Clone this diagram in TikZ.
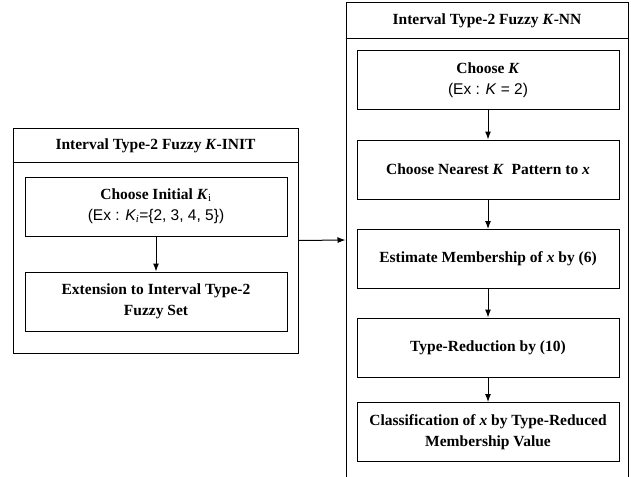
\documentclass[tikz,border=0pt]{standalone}
\usepackage{fontspec}
\setmainfont{Liberation Serif}
\newfontfamily\exfont{Liberation Sans}
\usetikzlibrary{arrows.meta}

\begin{document}
\begin{tikzpicture}[x=1pt,y=-1pt,
		panel/.style={draw,line width=1pt,inner sep=0pt},
		headline/.style={font=\bfseries\fontsize{15.5}{21}\selectfont},
		stepbox/.style={draw,line width=1pt,minimum width=262pt,minimum height=59pt,align=center,font=\bfseries\fontsize{15.5}{21}\selectfont},
		flow/.style={-{Latex[length=8pt,width=6pt]},line width=1pt}]
	
	\useasboundingbox (0,0) rectangle (631,476);
	
	% outer panels
	\node [panel,minimum width=285pt,minimum height=225pt] (initbox) at (155.5,240.5) {};
	\node [panel,minimum width=282pt,minimum height=474pt] (nnbox) at (487,240) {};
	\draw [line width=1pt] ([yshift=-35pt]initbox.north west) -- ([yshift=-35pt]initbox.north east);
	\draw [line width=1pt] ([yshift=-36pt]nnbox.north west) -- ([yshift=-36pt]nnbox.north east);
	\node [headline] (inittitle) at (155.5,146) {Interval Type-2 Fuzzy \textit{K}-INIT};
	\node [headline] (nntitle) at (487,21) {Interval Type-2 Fuzzy \textit{K}-NN};
	
	% K-INIT steps
	\node [stepbox] (init1) at (156,206.5) {Choose Initial \textit{K}$_{\mathrm{i}}$\\{\exfont\mdseries\fontsize{15.5}{21}\selectfont(Ex : \textit{K$_{\mathit{i}}$}=\{2, 3, 4, 5\})}};
	\node [stepbox] (init2) at (156,301.5) {Extension to Interval Type-2\\Fuzzy Set};
	
	% K-NN steps
	\node [stepbox] (nn1) at (488,80) {Choose \textit{K}\\{\exfont\mdseries\fontsize{15.5}{21}\selectfont(Ex : \textit{K} = 2)}};
	\node [stepbox] (nn2) at (488,169.5) {Choose Nearest \textit{K}\ \ Pattern to \textit{x}};
	\node [stepbox] (nn3) at (488,259) {Estimate Membership of \textit{x} by (6)};
	\node [stepbox] (nn4) at (488,347.5) {Type-Reduction by (10)};
	\node [stepbox] (nn5) at (488,432) {Classification of \textit{x} by Type-Reduced\\Membership Value};
	
	\draw [flow] (init1) -- (init2);
	\foreach \a/\b in {nn1/nn2,nn2/nn3,nn3/nn4,nn4/nn5}
		\draw [flow] (\a) -- (\b);
	\draw [flow] (initbox.east) -- (nnbox.west);
	
\end{tikzpicture}
\end{document}
